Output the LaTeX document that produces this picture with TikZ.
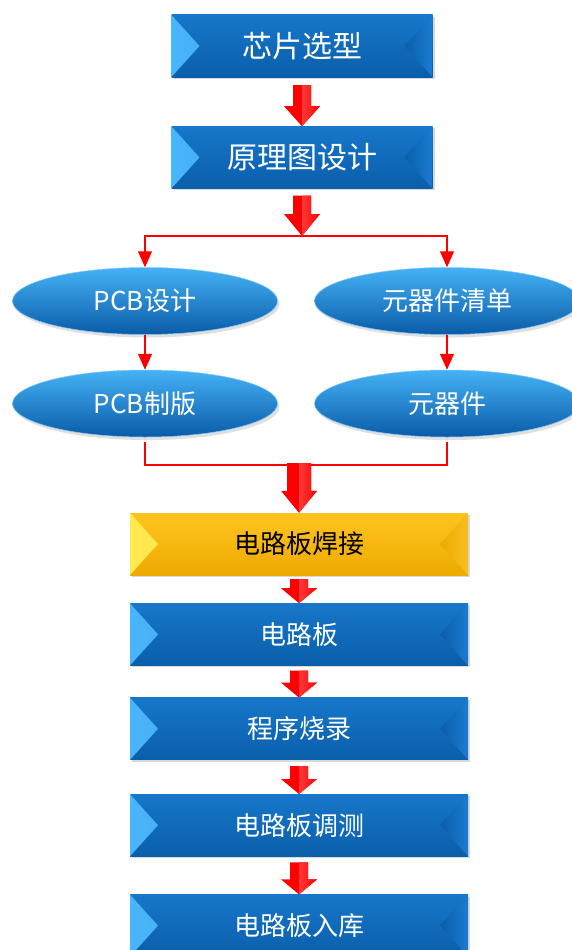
\documentclass[tikz,border=0pt]{standalone}
\usepackage{fontspec}
\newfontfamily\cjk{Noto Sans CJK SC}
\usetikzlibrary{positioning,calc,shapes.geometric,shadows,arrows.meta}
\definecolor{bxtop}{HTML}{1777CA}
\definecolor{bxbot}{HTML}{0A5EAA}
\definecolor{bxlft}{HTML}{4AB6FA}
\definecolor{bxrgt}{HTML}{1B7BD2}
\definecolor{ytop}{HTML}{FFC420}
\definecolor{ybot}{HTML}{EDAA00}
\definecolor{ylft}{HTML}{FFEA50}
\definecolor{yrgt}{HTML}{F8BE20}
\definecolor{eltop}{HTML}{45B2F6}
\definecolor{elmid}{HTML}{1475C8}
\definecolor{elbot}{HTML}{0A5BA8}

\begin{document}
\begin{tikzpicture}[x=1pt,y=-1pt,node distance=30pt,
  bevel/.style n args={4}{top color=#1, bottom color=#2, path picture={
      \shade[left color=#3, right color=#1] (path picture bounding box.north west) -- ([xshift=28pt]path picture bounding box.west) -- (path picture bounding box.south west) -- cycle;
      \shade[left color=#2, right color=#4] (path picture bounding box.north east) -- ([xshift=-28pt]path picture bounding box.east) -- (path picture bounding box.south east) -- cycle;}},
  blk/.style={rectangle, minimum width=338pt, minimum height=62pt, inner sep=0pt, text=white, font=\cjk\fontsize{26}{30}\selectfont, drop shadow={opacity=0.3,shadow xshift=2pt,shadow yshift=-2pt}, bevel={bxtop}{bxbot}{bxlft}{bxrgt}},
  topblk/.style={blk, minimum width=261pt, font=\cjk\fontsize{30}{36}\selectfont},
  yblk/.style={blk, text=black, bevel={ytop}{ybot}{ylft}{yrgt}},
  ell/.style={ellipse, minimum width=265pt, minimum height=67pt, inner sep=0pt, text=white, font=\cjk\fontsize{26}{30}\selectfont, top color=eltop, middle color=elmid, bottom color=elbot, draw=eltop!70!white, line width=0.5pt, drop shadow={opacity=0.25,shadow xshift=2pt,shadow yshift=-3pt}},
  redln/.style={draw=red, line width=1.2pt, -{Triangle[width=14pt,length=16pt]}},
  fat/.style n args={3}{fill=red, to path={let \p1=(\tikztostart), \p2=(\tikztotarget) in
      (\x1-#1,\y1) -- (\x1+#1,\y1) -- (\x1+#1,\y2+#3) -- (\x1+#2,\y2+#3) -- (\x1,\y2) -- (\x1-#2,\y2+#3) -- (\x1-#1,\y2+#3) -- cycle},
    path picture={\shade[left color=red!55!white, right color=red] (path picture bounding box.north) rectangle (path picture bounding box.south east);}}]
    \path[use as bounding box, fill=white] (0,0) rectangle (571,950);
    % top chain
    \node [topblk] (chip) at (302,46) {芯片选型};
    \node [topblk, below=49pt of chip] (sch) {原理图设计};
    \coordinate (split) at (302,236);
    % two branches
    \node [ell] (pcbd) at (145,301) {PCB设计};
    \node [ell] (bom) at (447,301) {元器件清单};
    \node [ell, below=35pt of pcbd] (pcbf) {PCB制版};
    \node [ell, below=35pt of bom] (parts) {元器件};
    \coordinate (merge) at (299,465);
    % bottom chain
    \node [yblk] (weld) at (299,544) {电路板焊接};
    \node [blk, below=28pt of weld] (board) {电路板};
    \node [blk, below=32pt of board] (prog) {程序烧录};
    \node [blk, below=34pt of prog] (test) {电路板调测};
    \node [blk, below=38pt of test] (store) {电路板入库};
    \path[fat={9pt}{18pt}{20pt}] ([yshift=-8pt]chip.south) to (sch.north);
    \path[fat={9pt}{18pt}{22pt}] ([yshift=-7pt]sch.south) to (split);
    \draw[redln] (split) -| (pcbd.north);
    \draw[redln] (split) -| (bom.north);
    \draw[redln] (pcbd.south) -- (pcbf.north);
    \draw[redln] (bom.south) -- (parts.north);
    \draw[redln, -] ([yshift=-5pt]pcbf.south) |- (merge) -| ([yshift=-5pt]parts.south);
    \path[fat={12pt}{18pt}{22pt}] ([yshift=2pt]merge) to (weld.north);
    \path[fat={9pt}{18pt}{15pt}] ([yshift=-4pt]weld.south) to (board.north);
    \path[fat={9pt}{18pt}{15pt}] ([yshift=-5pt]board.south) to (prog.north);
    \path[fat={9pt}{18pt}{15pt}] ([yshift=-6pt]prog.south) to (test.north);
    \path[fat={9pt}{18pt}{15pt}] ([yshift=-6pt]test.south) to (store.north);
\end{tikzpicture}
\end{document}
